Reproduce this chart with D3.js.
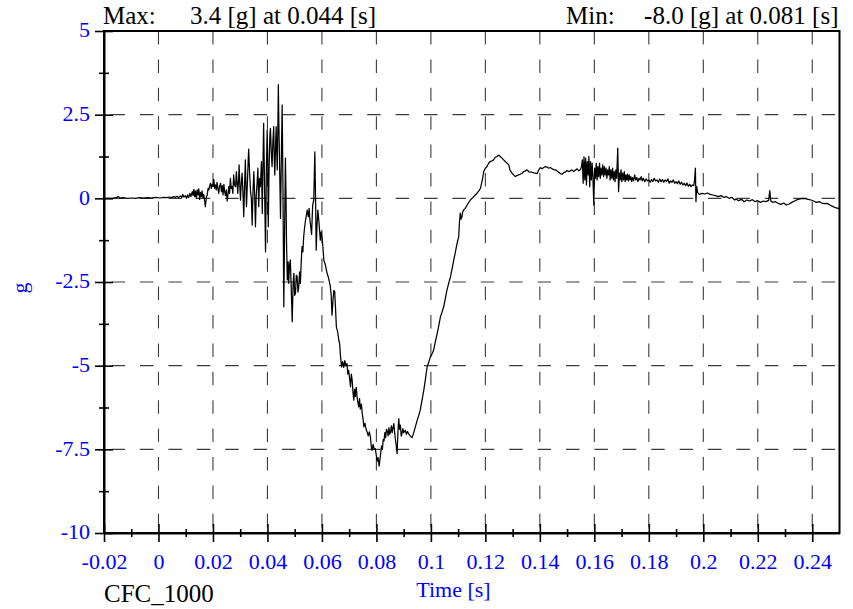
<!DOCTYPE html>
<html>
<head>
<meta charset="utf-8">
<script src="https://cdn.jsdelivr.net/npm/d3@7"></script>
<style>
  html, body { margin: 0; padding: 0; background: #fff; }
  svg { display: block; font-family: "Liberation Serif", "Times New Roman", serif; }
</style>
</head>
<body>
<svg id="chart" width="853" height="609"></svg>
<script>
// ---- chart values ----
const filterClass = "CFC_1000";
const xTitle = "Time [s]";
const yTitle = "g";

const xTicks = [-0.02, 0, 0.02, 0.04, 0.06, 0.08, 0.1, 0.12, 0.14, 0.16, 0.18, 0.2, 0.22, 0.24];
const xTickLabels = ["-0.02", "0", "0.02", "0.04", "0.06", "0.08", "0.1", "0.12", "0.14", "0.16", "0.18", "0.2", "0.22", "0.24"];
const xMinorTicks = [-0.01, 0.01, 0.03, 0.05, 0.07, 0.09, 0.11, 0.13, 0.15, 0.17, 0.19, 0.21, 0.23];

const yTicks = [5, 2.5, 0, -2.5, -5, -7.5, -10];
const yTickLabels = ["5", "2.5", "0", "-2.5", "-5", "-7.5", "-10"];
const yMinorTicks = [3.75, 1.25, -1.25, -3.75, -6.25, -8.75];

// acceleration trace: [time (s), acceleration (g)]
const accelTrace = [
  [-0.0200,0.00],[-0.0185,0.01],[-0.0170,0.00],[-0.0155,0.02],[-0.0147,0.05],[-0.0142,0.01],[-0.0130,0.02],
  [-0.0115,0.00],[-0.0100,0.01],[-0.0085,0.00],[-0.0070,0.02],[-0.0055,0.01],[-0.0040,0.02],[-0.0025,0.01],
  [-0.0010,0.03],[0.0005,0.01],[0.0020,0.03],[0.0030,0.02],[0.0040,0.04],[0.0048,0.02],[0.0055,0.05],
  [0.0062,0.03],[0.0068,0.06],[0.0074,0.02],[0.0080,0.07],[0.0086,0.03],
  [0.0089,0.12],[0.0093,0.04],[0.0099,0.08],[0.0103,0.00],[0.0107,0.10],[0.0111,0.02],[0.0115,0.15],
  [0.0119,0.05],[0.0124,0.20],[0.0127,0.08],[0.0130,0.27],[0.0133,0.05],[0.0136,0.22],[0.0139,0.00],
  [0.0142,0.25],[0.0145,0.10],[0.0148,0.28],[0.0151,-0.03],[0.0154,0.18],[0.0157,0.05],[0.0160,0.22],
  [0.0163,0.02],[0.0166,0.12],[0.0169,-0.05],[0.0172,-0.25],[0.0176,0.05],[0.0179,0.10],[0.0182,0.30],
  [0.0185,0.25],[0.0188,0.38],[0.0191,0.45],[0.0194,0.30],[0.0197,0.42],[0.0200,0.35],[0.0203,0.57],
  [0.0206,0.30],[0.0209,0.40],[0.0212,0.25],[0.0215,0.48],[0.0218,0.30],[0.0221,0.15],[0.0224,0.35],
  [0.0228,0.45],[0.0231,0.20],[0.0234,0.38],[0.0237,0.10],[0.0240,0.42],[0.0243,0.20],[0.0246,0.08],
  [0.0249,0.25],[0.0252,-0.08],[0.0255,0.10],[0.0258,0.35],[0.0261,0.15],[0.0264,0.60],[0.0267,0.30],
  [0.0270,0.35],[0.0273,0.15],[0.0276,0.70],[0.0279,0.40],[0.0283,0.35],[0.0286,0.80],[0.0289,0.40],
  [0.0291,0.15],[0.0294,0.55],[0.0296,1.00],[0.0299,0.30],[0.0301,-0.05],[0.0304,0.45],[0.0307,0.75],
  [0.0310,0.20],[0.0313,-0.55],[0.0316,0.40],[0.0319,1.15],[0.0321,0.40],[0.0323,-0.25],[0.0327,0.60],
  [0.0331,1.47],[0.0335,0.70],[0.0338,0.20],[0.0341,0.00],[0.0344,-0.80],[0.0347,0.20],[0.0350,0.80],
  [0.0353,0.10],[0.0356,-0.85],[0.0359,0.10],[0.0362,0.45],[0.0365,0.90],[0.0368,-0.25],
  [0.0371,0.60],[0.0374,0.35],[0.0378,1.10],[0.0381,-0.45],[0.0384,1.20],[0.0386,2.24],[0.0389,0.60],
  [0.0393,-1.60],[0.0396,0.85],[0.0399,2.04],[0.0401,1.20],[0.0403,-0.85],[0.0406,0.90],[0.0409,1.90],
  [0.0411,2.09],[0.0414,1.40],[0.0417,0.95],[0.0420,1.70],[0.0423,2.14],[0.0425,1.20],[0.0427,0.70],
  [0.0430,1.60],[0.0432,2.14],[0.0434,1.40],[0.0436,0.85],[0.0438,2.00],[0.0440,3.40],[0.0442,2.20],
  [0.0445,0.80],[0.0448,-0.60],[0.0451,1.20],[0.0454,2.79],[0.0457,0.30],[0.0460,-3.24],[0.0463,-1.00],
  [0.0466,1.20],[0.0468,0.20],[0.0470,-1.30],[0.0473,-2.44],[0.0476,-1.90],[0.0478,-2.54],[0.0481,-2.00],
  [0.0484,-1.84],[0.0487,-2.60],[0.0491,-3.69],[0.0494,-2.60],[0.0497,-2.24],[0.0500,-2.90],[0.0503,-2.84],
  [0.0506,-2.30],[0.0509,-2.34],[0.0512,-2.80],[0.0515,-2.64],[0.0518,-2.20],[0.0521,-2.54],[0.0524,-1.90],
  [0.0527,-1.44],[0.0530,-1.60],[0.0533,-1.15],[0.0536,-0.90],[0.0539,-0.70],[0.0543,-0.50],[0.0546,-0.35],
  [0.0550,-0.55],[0.0553,-0.30],[0.0556,-0.65],[0.0559,-0.85],[0.0562,-1.08],[0.0566,-0.20],[0.0570,-0.05],
  [0.0574,1.39],[0.0577,-0.20],[0.0579,-1.55],[0.0582,-0.80],[0.0585,-0.35],[0.0589,-0.70],[0.0594,-1.25],
  [0.0597,-1.00],[0.0601,-1.20],[0.0604,-1.50],[0.0607,-1.85],[0.0613,-2.00],[0.0619,-2.24],[0.0625,-2.40],
  [0.0631,-2.64],[0.0634,-2.90],[0.0637,-3.49],[0.0641,-3.00],[0.0644,-2.75],[0.0647,-2.79],[0.0650,-3.30],
  [0.0653,-3.84],[0.0658,-4.00],[0.0662,-4.24],
  [0.0665,-4.34],[0.0668,-4.70],[0.0672,-5.04],[0.0676,-4.88],[0.0680,-5.05],[0.0684,-4.85],[0.0688,-5.00],
  [0.0692,-4.94],[0.0695,-5.25],[0.0698,-5.14],[0.0702,-5.40],[0.0705,-5.63],[0.0708,-5.25],[0.0711,-5.43],
  [0.0714,-5.80],[0.0717,-6.03],[0.0720,-5.70],[0.0723,-5.92],[0.0726,-5.65],[0.0729,-5.93],[0.0732,-6.10],
  [0.0735,-6.23],[0.0738,-5.98],[0.0741,-6.30],[0.0745,-6.15],[0.0748,-6.43],[0.0751,-6.60],[0.0754,-6.83],
  [0.0758,-6.72],[0.0762,-6.90],[0.0766,-6.98],[0.0770,-7.10],[0.0774,-6.98],[0.0778,-7.13],[0.0781,-7.40],
  [0.0784,-7.53],[0.0788,-7.35],[0.0792,-7.50],[0.0796,-7.48],[0.0799,-7.65],[0.0803,-7.85],[0.0806,-7.75],
  [0.0810,-8.00],[0.0813,-7.80],[0.0816,-7.60],[0.0819,-7.40],[0.0822,-7.50],[0.0825,-7.20],[0.0828,-7.25],
  [0.0831,-7.00],[0.0834,-7.15],[0.0837,-6.90],[0.0840,-6.95],[0.0843,-7.10],[0.0846,-6.85],[0.0849,-7.05],
  [0.0852,-6.98],[0.0855,-6.80],[0.0858,-7.00],[0.0861,-6.85],[0.0864,-6.73],[0.0867,-7.00],[0.0870,-7.23],
  [0.0873,-7.40],[0.0876,-7.63],[0.0879,-7.00],[0.0882,-6.58],[0.0885,-6.90],[0.0888,-6.78],[0.0891,-7.10],
  [0.0894,-7.03],[0.0897,-6.88],[0.0900,-7.00],[0.0906,-6.93],[0.0910,-7.05],[0.0914,-6.97],[0.0918,-7.03],
  [0.0924,-7.10],[0.0931,-7.15],[0.0937,-7.00],[0.0943,-6.83],[0.0949,-6.65],[0.0955,-6.50],[0.0961,-6.33],
  [0.0967,-6.05],[0.0974,-5.73],[0.0980,-5.40],[0.0986,-5.04],[0.0992,-4.90],[0.0998,-4.74],[0.1004,-4.65],
  [0.1010,-4.54],[0.1016,-4.30],[0.1023,-4.04],[0.1029,-3.80],[0.1035,-3.54],[0.1041,-3.40],[0.1047,-3.24],
  [0.1053,-3.00],[0.1059,-2.74],[0.1065,-2.55],[0.1072,-2.34],[0.1078,-2.10],[0.1084,-1.84],[0.1090,-1.60],
  [0.1096,-1.35],[0.1100,-1.22],[0.1102,-1.15],[0.1105,-0.70],[0.1108,-0.44],[0.1111,-0.62],[0.1114,-0.55],
  [0.1117,-0.40],[0.1120,-0.35],[0.1126,-0.30],[0.1133,-0.20],[0.1139,-0.12],[0.1145,-0.05],[0.1151,0.00],
  [0.1157,0.05],[0.1163,0.10],[0.1170,0.16],[0.1176,0.22],[0.1182,0.30],[0.1186,0.45],[0.1190,0.60],
  [0.1194,0.80],[0.1200,0.90],[0.1206,0.95],[0.1212,1.05],[0.1218,1.10],[0.1224,1.12],[0.1230,1.15],
  [0.1236,1.22],[0.1243,1.25],[0.1249,1.29],[0.1255,1.25],[0.1261,1.20],[0.1267,1.15],[0.1273,1.10],
  [0.1280,1.05],[0.1286,1.00],[0.1290,0.85],[0.1294,0.80],[0.1298,0.75],[0.1304,0.70],[0.1310,0.65],
  [0.1316,0.68],[0.1322,0.70],[0.1328,0.72],[0.1335,0.75],[0.1341,0.80],[0.1347,0.82],[0.1353,0.85],
  [0.1359,0.80],[0.1365,0.78],[0.1371,0.78],[0.1378,0.76],[0.1384,0.75],[0.1390,0.74],[0.1396,0.85],
  [0.1402,0.92],[0.1408,0.88],[0.1414,0.92],[0.1420,0.95],[0.1427,0.93],[0.1433,0.90],[0.1439,0.92],
  [0.1445,0.88],[0.1451,0.86],[0.1457,0.85],[0.1463,0.82],[0.1469,0.78],[0.1475,0.74],[0.1481,0.72],
  [0.1487,0.76],[0.1494,0.79],[0.1500,0.83],[0.1506,0.80],[0.1512,0.82],[0.1518,0.85],[0.1524,0.80],
  [0.1530,0.84],[0.1537,0.88],[0.1543,0.82],[0.1549,0.86],
  [0.1553,0.95],[0.1556,1.15],[0.1559,0.45],[0.1562,1.24],[0.1565,0.55],[0.1568,1.20],[0.1571,0.40],
  [0.1574,1.10],[0.1577,0.70],[0.1580,1.25],[0.1583,0.35],[0.1586,1.10],[0.1589,0.55],[0.1592,1.05],
  [0.1595,0.60],[0.1598,-0.20],[0.1601,0.90],[0.1604,0.60],[0.1607,1.05],[0.1610,0.55],[0.1613,0.95],
  [0.1616,0.65],[0.1619,1.05],[0.1622,0.60],[0.1625,0.90],[0.1628,0.70],[0.1631,1.00],[0.1634,0.65],
  [0.1637,0.95],[0.1640,0.70],[0.1643,0.90],[0.1646,0.60],[0.1649,0.85],[0.1652,0.70],[0.1655,0.95],
  [0.1658,0.55],[0.1661,0.85],[0.1664,0.60],[0.1667,0.90],[0.1670,0.55],[0.1673,0.80],[0.1676,0.50],
  [0.1679,0.85],[0.1682,0.60],[0.1686,1.50],[0.1689,0.20],[0.1692,0.75],[0.1695,0.55],[0.1698,0.85],
  [0.1701,0.50],[0.1704,0.75],[0.1707,0.55],[0.1710,0.80],[0.1713,0.50],[0.1716,0.70],[0.1719,0.55],
  [0.1722,0.72],[0.1725,0.52],[0.1728,0.70],[0.1731,0.55],[0.1734,0.65],[0.1737,0.50],[0.1740,0.62],
  [0.1744,0.52],[0.1748,0.70],[0.1752,0.55],[0.1756,0.62],[0.1760,0.50],[0.1764,0.60],[0.1768,0.55],
  [0.1772,0.65],[0.1776,0.52],[0.1780,0.60],[0.1785,0.50],[0.1790,0.58],[0.1795,0.52],[0.1800,0.55],
  [0.1805,0.48],[0.1810,0.56],[0.1815,0.50],[0.1820,0.60],[0.1825,0.52],[0.1830,0.55],[0.1835,0.48],
  [0.1840,0.58],[0.1845,0.50],[0.1850,0.56],[0.1855,0.48],[0.1860,0.55],[0.1865,0.50],[0.1870,0.58],
  [0.1875,0.45],[0.1880,0.52],[0.1885,0.48],[0.1890,0.55],[0.1895,0.45],[0.1900,0.50],[0.1905,0.44],
  [0.1910,0.52],[0.1915,0.42],[0.1920,0.48],[0.1925,0.40],[0.1930,0.45],[0.1935,0.38],[0.1940,0.46],
  [0.1945,0.36],[0.1950,0.42],[0.1955,0.35],[0.1960,0.40],[0.1965,0.38],[0.1968,0.55],[0.1971,0.90],
  [0.1973,-0.10],[0.1976,0.35],[0.1979,0.18],[0.1985,0.12],[0.1995,0.15],[0.2005,0.13],[0.2015,0.16],
  [0.2025,0.12],[0.2035,0.10],[0.2045,0.08],[0.2055,0.05],[0.2065,0.08],[0.2075,0.03],[0.2085,0.05],
  [0.2095,0.00],[0.2105,0.03],[0.2115,-0.05],[0.2120,-0.02],[0.2130,-0.07],[0.2140,-0.03],[0.2150,-0.10],
  [0.2160,-0.05],[0.2170,-0.08],[0.2180,-0.04],[0.2190,-0.10],[0.2200,-0.07],[0.2210,-0.12],[0.2220,-0.08],
  [0.2230,-0.10],[0.2240,-0.06],[0.2244,0.23],[0.2248,-0.08],[0.2255,-0.12],[0.2265,-0.10],[0.2275,-0.15],
  [0.2285,-0.18],[0.2295,-0.14],[0.2305,-0.20],[0.2315,-0.17],[0.2325,-0.12],[0.2335,-0.08],[0.2345,-0.04],
  [0.2355,-0.02],[0.2365,0.00],[0.2375,-0.01],[0.2385,-0.03],[0.2395,-0.05],[0.2405,-0.08],[0.2415,-0.12],
  [0.2425,-0.10],[0.2435,-0.14],[0.2445,-0.16],[0.2455,-0.15],[0.2465,-0.20],[0.2475,-0.24],[0.2485,-0.28],
  [0.2495,-0.30],[0.2500,-0.32]
];

// ---- layout ----
const W = 853, H = 609;
const plot = { left: 104, right: 839.5, top: 31, bottom: 533 };
const serif = '"Liberation Serif", "Times New Roman", serif';
const blue = "#0000ff";

const svg = d3.select("#chart").attr("width", W).attr("height", H);

const x = d3.scaleLinear().domain([-0.02, 0.25]).range([plot.left, plot.right]);
const y = d3.scaleLinear().domain([-10, 5]).range([plot.bottom, plot.top]);

// ---- dashed grid ----
const grid = svg.append("g")
  .attr("stroke", "#3c3c3c")
  .attr("stroke-width", 1.1)
  .attr("stroke-dasharray", "13.5 14.9");

grid.selectAll("line.v")
  .data(xTicks.filter(t => t > x.domain()[0] + 1e-9))
  .join("line").attr("class", "v")
  .attr("x1", d => x(d)).attr("x2", d => x(d))
  .attr("y1", y(5)).attr("y2", y(-10));

grid.selectAll("line.h")
  .data(yTicks.filter(v => v < 5 && v > -10))
  .join("line").attr("class", "h")
  .attr("x1", x(-0.02)).attr("x2", x(0.25))
  .attr("y1", d => y(d)).attr("y2", d => y(d))
  .attr("stroke-dashoffset", 20.8);

// ---- trace ----
svg.append("clipPath").attr("id", "plot-clip")
  .append("rect")
  .attr("x", plot.left).attr("y", plot.top)
  .attr("width", plot.right - plot.left).attr("height", plot.bottom - plot.top);

const line = d3.line().x(d => x(d[0])).y(d => y(d[1]));
svg.append("path")
  .datum(accelTrace)
  .attr("clip-path", "url(#plot-clip)")
  .attr("fill", "none")
  .attr("stroke", "#000")
  .attr("stroke-width", 1.25)
  .attr("stroke-linejoin", "round")
  .attr("d", line);

// ---- frame (top and right edges) ----
svg.append("rect")
  .attr("x", plot.left).attr("y", plot.top)
  .attr("width", plot.right - plot.left).attr("height", plot.bottom - plot.top)
  .attr("fill", "none").attr("stroke", "#000").attr("stroke-width", 2);

// ---- x axis ----
const gx = svg.append("g")
  .attr("transform", `translate(0,${y(-10)})`)
  .call(d3.axisBottom(x)
    .tickValues(xTicks)
    .tickFormat((d, i) => xTickLabels[i])
    .tickSizeInner(9).tickSizeOuter(0).tickPadding(11));
gx.attr("font-family", serif).attr("font-size", 22);
gx.select(".domain").attr("stroke-width", 2);
gx.selectAll(".tick line").attr("y1", -9).attr("stroke-width", 1.6);
gx.selectAll(".tick text").attr("fill", blue);

const gxm = svg.append("g")
  .attr("transform", `translate(0,${y(-10)})`)
  .call(d3.axisBottom(x).tickValues(xMinorTicks).tickFormat("").tickSizeInner(4).tickSizeOuter(0));
gxm.select(".domain").remove();
gxm.selectAll(".tick line").attr("y1", -4).attr("stroke-width", 1.6);

// ---- y axis ----
const gy = svg.append("g")
  .attr("transform", `translate(${x(-0.02)},0)`)
  .call(d3.axisLeft(y)
    .tickValues(yTicks)
    .tickFormat((d, i) => yTickLabels[i])
    .tickSizeInner(9).tickSizeOuter(0).tickPadding(5));
gy.attr("font-family", serif).attr("font-size", 22);
gy.select(".domain").attr("stroke-width", 2);
gy.selectAll(".tick line").attr("x2", 9).attr("x1", -9).attr("stroke-width", 1.6);
gy.selectAll(".tick text").attr("fill", blue).attr("dy", "0.27em");

const gym = svg.append("g")
  .attr("transform", `translate(${x(-0.02)},0)`)
  .call(d3.axisLeft(y).tickValues(yMinorTicks).tickFormat("").tickSizeInner(5).tickSizeOuter(0));
gym.select(".domain").remove();
gym.selectAll(".tick line").attr("x1", 5).attr("stroke-width", 1.6);

// ---- axis titles ----
svg.append("text")
  .attr("x", 453.5).attr("y", 596.5)
  .attr("text-anchor", "middle")
  .attr("font-family", serif).attr("font-size", 22).attr("fill", blue)
  .text(xTitle);

svg.append("text")
  .attr("transform", `translate(27,288) rotate(-90)`)
  .attr("text-anchor", "middle")
  .attr("font-family", serif).attr("font-size", 22).attr("fill", blue)
  .text(yTitle);

svg.append("text")
  .attr("x", 104).attr("y", 601.5)
  .attr("font-family", serif).attr("font-size", 25).attr("fill", "#000")
  .text(filterClass);

// ---- peak annotations ----
const peakMax = accelTrace.reduce((a, b) => (b[1] > a[1] ? b : a));
const peakMin = accelTrace.reduce((a, b) => (b[1] < a[1] ? b : a));
const peakText = p => `${p[1].toFixed(1)} [g] at ${p[0].toFixed(3)} [s]`;

const head = svg.append("g").attr("font-family", serif).attr("font-size", 25).attr("fill", "#000");
head.append("text").attr("x", 103).attr("y", 24).text("Max:");
head.append("text").attr("x", 190).attr("y", 24).text(peakText(peakMax));
head.append("text").attr("x", 566).attr("y", 24).text("Min:");
head.append("text").attr("x", 838.5).attr("y", 24).attr("text-anchor", "end").text(peakText(peakMin));
</script>
</body>
</html>
